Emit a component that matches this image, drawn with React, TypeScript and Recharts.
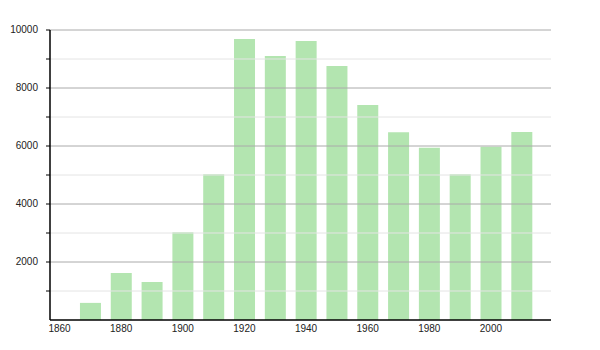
import React from "react";
import { BarChart, Bar, XAxis, YAxis, ReferenceLine } from "recharts";

const years = [1870, 1880, 1890, 1900, 1910, 1920, 1930, 1940, 1950, 1960, 1970, 1980, 1990, 2000, 2010];
const population = [590, 1620, 1310, 3030, 5030, 9690, 9100, 9620, 8760, 7410, 6470, 5940, 5030, 5970, 6480];
const xTicks = [1860, 1880, 1900, 1920, 1940, 1960, 1980, 2000];
const yTicks = [1000, 2000, 3000, 4000, 5000, 6000, 7000, 8000, 9000, 10000];
const majorGrid = [2000, 4000, 6000, 8000, 10000];
const minorGrid = [1000, 3000, 5000, 7000, 9000];

const data = years.map((y, i) => ({ year: y, value: population[i] }));

const YTick = (props: any) => {
  const { x, y, payload } = props;
  const v = payload.value;
  if (v % 2000 !== 0) return null;
  return (
    <text x={x} y={y} dy={3} textAnchor="end" fontSize={10} fill="#222" fontFamily="Liberation Sans, Arial, sans-serif">
      {v}
    </text>
  );
};

export default function App() {
  return (
    <div style={{ position: "absolute", left: 0, top: 0, width: 600, height: 350, background: "#fff" }}>
      <BarChart width={600} height={350} data={data} margin={{ top: 30, right: 49, bottom: 10, left: 0 }}>
        {minorGrid.map((v) => (
          <ReferenceLine key={"mi" + v} y={v} stroke="#e4e4e4" strokeWidth={1} />
        ))}
        {majorGrid.map((v) => (
          <ReferenceLine key={"ma" + v} y={v} stroke="#aaaaaa" strokeWidth={1} />
        ))}
        <XAxis
          dataKey="year"
          type="number"
          domain={[1856.9, 2019.5]}
          ticks={xTicks}
          allowDataOverflow
          tickLine={false}
          tickSize={0}
          tickMargin={5}
          height={20}
          axisLine={{ stroke: "#000", strokeWidth: 1.5 }}
          tick={{ fontSize: 10, fill: "#222", fontFamily: "Liberation Sans, Arial, sans-serif" }}
          interval={0}
        />
        <YAxis
          width={50}
          type="number"
          domain={[0, 10000]}
          ticks={yTicks}
          interval={0}
          tickSize={4}
          tickMargin={8}
          tickLine={{ stroke: "#000" }}
          axisLine={{ stroke: "#000", strokeWidth: 1.5 }}
          tick={<YTick />}
        />
        <Bar dataKey="value" fill="#b3e5b0" barSize={21} isAnimationActive={false} />
      </BarChart>
    </div>
  );
}
